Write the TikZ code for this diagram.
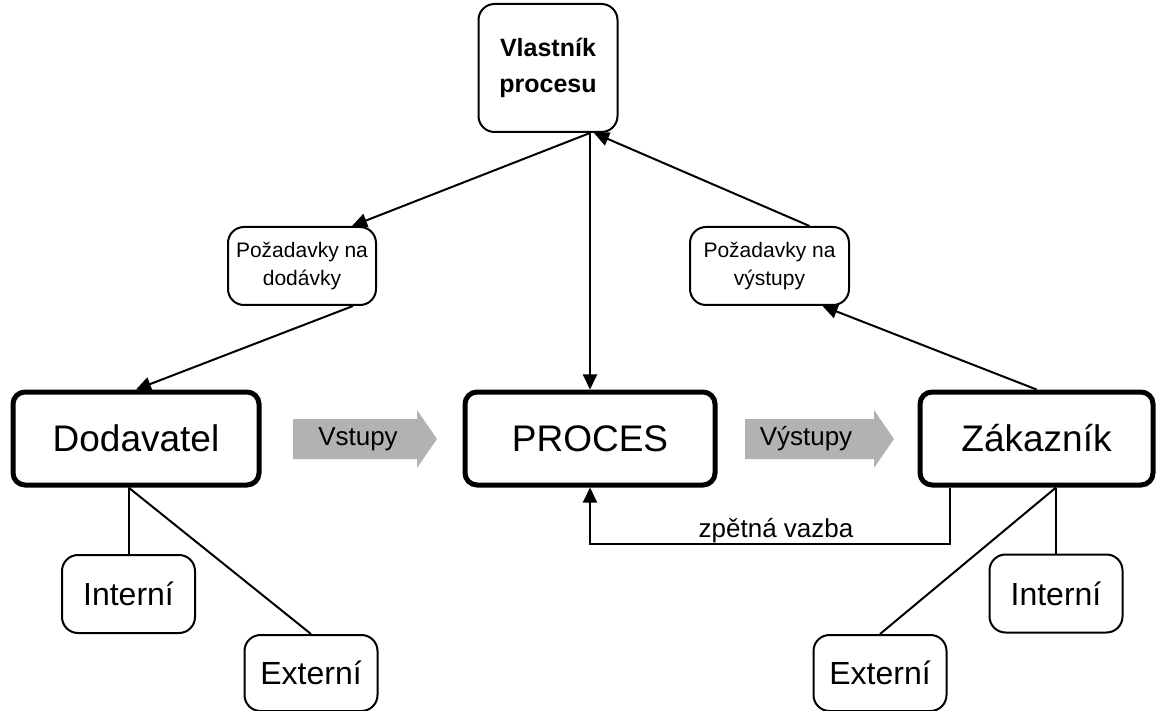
\documentclass[tikz,border=0pt]{standalone}
\usepackage{fontspec}
\setmainfont{Liberation Sans}
\usetikzlibrary{calc,arrows.meta}
\definecolor{arrowgray}{RGB}{178,178,178}
\tikzset{
  box/.style={draw=black, rounded corners=8pt, line width=1pt, align=center,
    inner sep=0pt, fill=white},
  mainbox/.style={box, line width=2.5pt, rounded corners=6pt,
    minimum height=46.5pt, font=\fontsize{18.5pt}{22pt}\selectfont},
  leafbox/.style={box, minimum width=66.5pt, minimum height=39pt,
    font=\fontsize{16pt}{18pt}\selectfont},
  reqbox/.style={box, minimum height=39pt, font=\fontsize{10.5pt}{14pt}\selectfont},
  conn/.style={line width=1pt, -{Triangle[length=7.5pt,width=7pt]}},
  link/.style={line width=1pt},
  flowlabel/.style={font=\fontsize{13pt}{15pt}\selectfont, inner sep=0pt}
}
\begin{document}
\begin{tikzpicture}[x=0.5pt, y=-0.5pt]
\useasboundingbox (0,0) rectangle (1157,711);

% process owner and requirement boxes
\node[box, minimum width=69.5pt, minimum height=64pt,
  font=\bfseries\fontsize{12.5pt}{18pt}\selectfont] (own) at (548,68) {Vlastník\\procesu};
\node[reqbox, minimum width=74pt] (pd) at (302,266) {Požadavky na\\dodávky};
\node[reqbox, minimum width=79.5pt] (pv) at (769.5,266) {Požadavky na\\výstupy};

% main row
\node[mainbox, minimum width=123pt] (dod) at (136,438.5) {Dodavatel};
\node[mainbox, minimum width=125pt] (proc) at (590,438.5) {PROCES};
\node[mainbox, minimum width=116.5pt] (zak) at (1036.5,438.5) {Zákazník};

% flow arrows between the main boxes
\fill[arrowgray] (293,419) -- (417,419) -- (417,410) -- (437,439) -- (417,468)
  -- (417,459) -- (293,459) -- cycle;
\node[flowlabel] (vin) at (358,439) {Vstupy};
\fill[arrowgray] (745,419) -- (874,419) -- (874,410) -- (894,439) -- (874,468)
  -- (874,459) -- (745,459) -- cycle;
\node[flowlabel] (vout) at (806,439) {Výstupy};

% internal / external leaves
\node[leafbox] (int1) at (128.5,594) {Interní};
\node[leafbox, minimum height=38pt] (ext1) at (311,673) {Externí};
\node[leafbox] (int2) at (1056,593.5) {Interní};
\node[leafbox, minimum height=38pt] (ext2) at (880,673) {Externí};

% owner links
\draw[conn] (own.south -| proc.north) -- ($(pd.north)+(50,0)$);
\draw[conn] (own.south -| proc.north) -- (proc.north);
\draw[conn] ($(pv.north)+(40,0)$) -- ($(own.south -| proc.north)+(4,0)$);
\draw[conn] ($(pd.south)+(51,0)$) -- (dod.north);
\draw[conn] (zak.north) -- ($(pv.south)+(53,0)$);

% supplier and customer branches
\draw[link] (dod.south -| int1.north) -- (int1.north);
\draw[link] (dod.south -| int1.north) -- (ext1.north);
\draw[link] (zak.south -| int2.north) -- (int2.north);
\draw[link] (zak.south -| int2.north) -- (ext2.north);

% feedback loop
\coordinate (fb) at (950,544);
\draw[conn] (zak.south -| fb) -- (fb) -- (fb -| proc.south) -- (proc.south);
\node[font=\fontsize{13pt}{15pt}\selectfont, anchor=base] (fbl) at (776,537) {zpětná vazba};
\end{tikzpicture}
\end{document}
